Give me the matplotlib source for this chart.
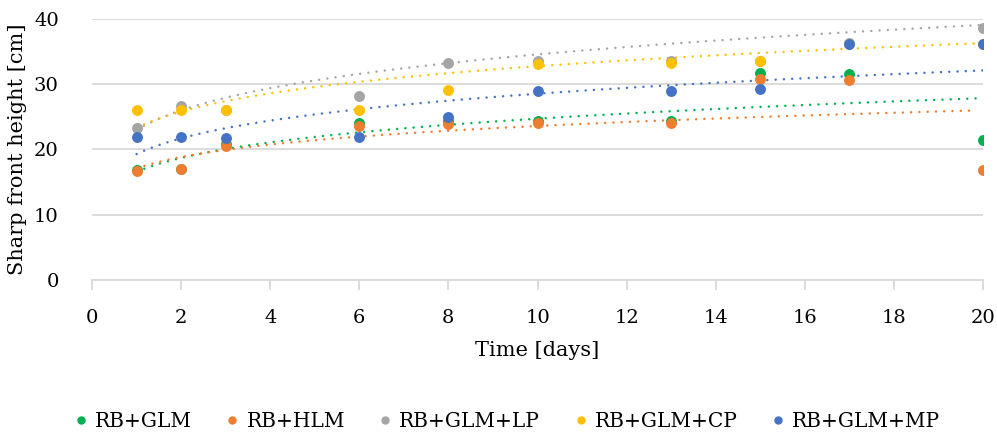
import numpy as np
import matplotlib.pyplot as plt
from matplotlib.lines import Line2D

plt.rcParams['font.family'] = ['DejaVu Serif']

days = [1, 2, 3, 6, 8, 10, 13, 15, 17, 20]
names = ['RB+GLM', 'RB+HLM', 'RB+GLM+LP', 'RB+GLM+CP', 'RB+GLM+MP']
colors = ['#00b050', '#ed7d31', '#a5a5a5', '#ffc000', '#4472c4']

rb_glm = [16.8, 17.0, 20.8, 24.0, 24.4, 24.4, 24.4, 31.7, 31.6, 21.5]
rb_hlm = [16.7, 17.0, 20.5, 23.6, 23.9, 24.0, 24.1, 30.8, 30.7, 16.9]
rb_glm_lp = [23.3, 26.7, 26.0, 28.2, 33.3, 33.6, 33.6, 33.5, 36.3, 38.6]
rb_glm_cp = [26.1, 26.1, 26.0, 26.1, 29.1, 33.1, 33.2, 33.5, 36.2, 36.2]
rb_glm_mp = [21.9, 21.9, 21.8, 21.9, 25.0, 28.9, 29.0, 29.3, 36.2, 36.2]

# power trendlines y = c * x^p, coefficients
trend_c = [16.6, 17.1, 23.0, 23.3, 19.3]
trend_p = [0.173, 0.140, 0.177, 0.148, 0.170]
trend_end = [20, 19.7, 20, 20, 20]

series = [rb_glm, rb_hlm, rb_glm_lp, rb_glm_cp, rb_glm_mp]

fig = plt.figure(figsize=(9.97, 4.41), dpi=100)
ax = fig.add_axes([0.0923, 0.365, 0.8937, 0.592])

for c, p, xe, col in zip(trend_c, trend_p, trend_end, colors):
    xt = np.linspace(1, xe, 200)
    ax.plot(xt, c * xt ** p, color=col, lw=1.8,
            linestyle=(0, (0.01, 3.3)), dash_capstyle='round', zorder=2)
for vals, col in zip(series, colors):
    ax.scatter(days, vals, s=62, color=col, zorder=3, linewidths=0)

ax.set_xlim(0, 20)
ax.set_ylim(0, 40)
ax.set_xticks(range(0, 21, 2))
ax.set_yticks(range(0, 41, 10))
ax.grid(axis='y', color='#d9d9d9', lw=1.3)
ax.set_axisbelow(True)
for s in ['top', 'right', 'left']:
    ax.spines[s].set_visible(False)
ax.spines['bottom'].set_color('#d9d9d9')
ax.spines['bottom'].set_linewidth(1.3)
ax.tick_params(axis='x', direction='out', length=7, color='#d9d9d9', width=1.3, labelsize=14, pad=14)
ax.tick_params(axis='y', length=0, labelsize=14, pad=24)
ax.set_xlabel('Time [days]', fontsize=15, labelpad=10)
ax.set_ylabel('Sharp front height [cm]', fontsize=15, labelpad=5)

handles = [Line2D([], [], marker='o', ls='', color=col, markersize=5) for col in colors]
fig.legend(handles, names, loc='center', bbox_to_anchor=(0.508, 0.045), ncol=5,
           frameon=False, fontsize=14.5, handlelength=0.8, handletextpad=0.3, columnspacing=1.6)

fig.savefig('out.png', dpi=100)
